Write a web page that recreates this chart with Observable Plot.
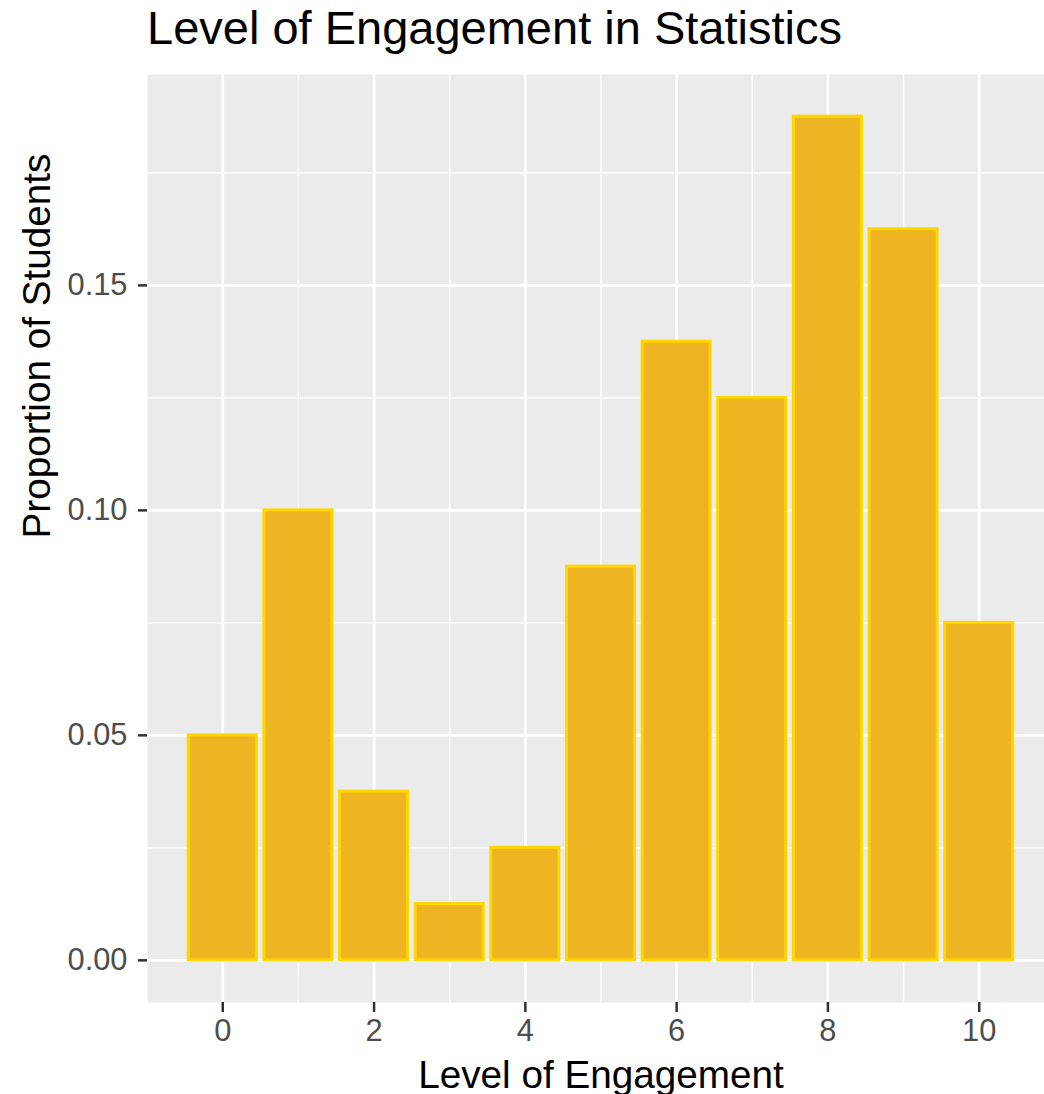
<!DOCTYPE html>
<html>
<head>
<meta charset="utf-8">
<script src="https://cdn.jsdelivr.net/npm/d3@7"></script>
<script src="https://cdn.jsdelivr.net/npm/@observablehq/plot@0.6"></script>
<style>
  html, body { margin: 0; padding: 0; background: white; }
  body { width: 1044px; height: 1094px; position: relative; overflow: hidden; font-family: "Liberation Sans", Arial, sans-serif; }
  #title { position: absolute; left: 147px; top: 4px; font-size: 47px; line-height: 47px; color: #000; white-space: nowrap; }
  #chart { position: absolute; left: 0; top: 74px; }
</style>
</head>
<body>
<div id="title">Level of Engagement in Statistics</div>
<div id="chart"></div>
<script>
const levels = [0, 1, 2, 3, 4, 5, 6, 7, 8, 9, 10];
const proportions = [0.05, 0.1, 0.0375, 0.0125, 0.025, 0.0875, 0.1375, 0.125, 0.1875, 0.1625, 0.075];
const xTicks = [0, 2, 4, 6, 8, 10];
const xMinorTicks = [1, 3, 5, 7, 9];
const yTicks = [0, 0.05, 0.10, 0.15];
const yMinorTicks = [0.025, 0.075, 0.125, 0.175];
const xTitle = "Level of Engagement";
const yTitle = "Proportion of Students";

const data = levels.map((level, i) => ({level, prop: proportions[i]}));
const halfWidth = 0.45;

const chart = Plot.plot({
  width: 1044,
  height: 1020,
  marginTop: 0,
  marginBottom: 92,
  marginLeft: 147,
  marginRight: 0,
  style: {fontFamily: "\"Liberation Sans\", Arial, sans-serif", background: "white", overflow: "hidden"},
  x: {domain: [-0.995, 10.863]},
  y: {domain: [-0.009375, 0.196875]},
  marks: [
    Plot.frame({fill: "#EBEBEB", stroke: null}),
    Plot.gridX({ticks: xMinorTicks, stroke: "white", strokeOpacity: 1, strokeWidth: 1.35}),
    Plot.gridY({ticks: yMinorTicks, stroke: "white", strokeOpacity: 1, strokeWidth: 1.35}),
    Plot.gridX({ticks: xTicks, stroke: "white", strokeOpacity: 1, strokeWidth: 2.7}),
    Plot.gridY({ticks: yTicks, stroke: "white", strokeOpacity: 1, strokeWidth: 2.7}),
    Plot.rectY(data, {
      x1: d => d.level - halfWidth,
      x2: d => d.level + halfWidth,
      y: "prop",
      fill: "#EEB422",
      stroke: "#FFD700",
      strokeWidth: 3,
      inset: 0
    }),
    Plot.axisX({ticks: xTicks, tickSize: 10, tickPadding: 7, tickFormat: d => String(d), fontSize: 30.8, fill: "#4D4D4D", stroke: "#333333", strokeWidth: 2.5, label: null}),
    Plot.axisY({ticks: yTicks, tickSize: 9, tickPadding: 11, tickFormat: d3.format(".2f"), fontSize: 30.8, fill: "#4D4D4D", stroke: "#333333", strokeWidth: 2.5, label: null}),
    Plot.text([xTitle], {text: d => d, frameAnchor: "bottom", lineAnchor: "bottom", dx: 5, dy: 85, fontSize: 38.7, fill: "black"}),
    Plot.text([yTitle], {text: d => d, frameAnchor: "left", lineAnchor: "bottom", rotate: -90, dx: -98, fontSize: 38.7, fill: "black"})
  ]
});
document.getElementById("chart").appendChild(chart);
</script>
</body>
</html>
